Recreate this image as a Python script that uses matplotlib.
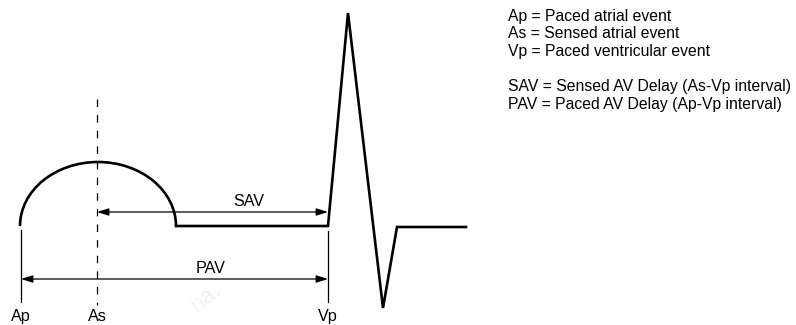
import matplotlib
matplotlib.use("Agg")
import matplotlib.pyplot as plt
from matplotlib.patches import Arc

# diagram coordinates (image-like units, y grows downward)
event_names = ["Ap", "As", "Vp"]
event_x = [21, 97, 328]

# P-wave dome (drawn as half ellipse)
p_center = (98, 226)
p_rx = 78
p_ry = 64

# baseline + ventricular complex
wave_x = [176, 328, 348, 383, 397, 466]
wave_y = [226, 226, 13, 308, 227, 227]

# intervals: label, start x, end x, arrow y, label x
interval_names = ["SAV", "PAV"]
interval_start = [97, 21]
interval_end = [328, 328]
interval_y = [212, 279]
interval_label_x = [249, 211]

legend_lines = [
    "Ap = Paced atrial event",
    "As = Sensed atrial event",
    "Vp = Paced ventricular event",
    "",
    "SAV = Sensed AV Delay (As-Vp interval)",
    "PAV = Paced AV Delay (Ap-Vp interval)",
]

plt.rcParams['font.family'] = ['Liberation Sans', 'DejaVu Sans']

fig = plt.figure(figsize=(7.96, 3.25), dpi=100)
ax = fig.add_axes([0, 0, 1, 1])
ax.set_xlim(0, 796)
ax.set_ylim(325, 0)
ax.axis('off')

wave_lw = 1.9
thin_lw = 0.9
fs = 11.6

# faint watermark fragment
ax.text(206, 298, "na.", color='#f3f3f3', fontsize=17, rotation=40,
        ha='center', va='center', zorder=0)

# P wave
ax.add_patch(Arc(p_center, 2 * p_rx, 2 * p_ry, theta1=180, theta2=360,
                 lw=wave_lw, color='black'))
ax.plot(wave_x, wave_y, color='black', lw=wave_lw, solid_joinstyle='miter')

# event markers
ax.plot([event_x[0], event_x[0]], [230, 302], color='black', lw=thin_lw)
ax.plot([event_x[2], event_x[2]], [231, 302], color='black', lw=thin_lw)
ax.plot([event_x[1], event_x[1]], [99, 305], color='black', lw=thin_lw,
        dashes=(6, 6.5))

for name, x in zip(event_names, event_x):
    ax.text(x, 321, name, ha='center', va='baseline', fontsize=fs)

# interval arrows
for name, x0, x1, y, lx in zip(interval_names, interval_start, interval_end,
                               interval_y, interval_label_x):
    ax.annotate('', xy=(x1, y), xytext=(x0, y),
                arrowprops=dict(arrowstyle='<|-|>,head_length=0.7,head_width=0.22',
                                color='black', lw=thin_lw,
                                shrinkA=0, shrinkB=0))
    ax.text(lx, y - 6, name, ha='center', va='baseline', fontsize=fs)

# legend text
for i, line in enumerate(legend_lines):
    ax.text(508, 20.7 + i * 17.66, line, ha='left', va='baseline', fontsize=11.3)

fig.savefig("out.png", dpi=100)
